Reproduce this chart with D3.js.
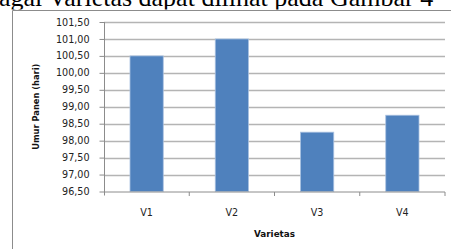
<!DOCTYPE html>
<html>
<head>
<meta charset="utf-8">
<script src="https://cdn.jsdelivr.net/npm/d3@7"></script>
<style>
body{margin:0;background:#fff;}
svg{display:block;}
</style>
</head>
<body>
<div id="chart"></div>
<script>
//DATA
const varietas = ["V1", "V2", "V3", "V4"];
const umurPanen = [100.5, 101.0, 98.25, 98.75];
const yTicks = [96.5, 97, 97.5, 98, 98.5, 99, 99.5, 100, 100.5, 101, 101.5];

//LAYOUT
const W = 451, H = 249;
const plot = {left:104, right:445, top:22, bottom:191.5};

const svg = d3.select("#chart").append("svg").attr("width", W).attr("height", H);

//text from the page above the figure (partly hidden by the chart image)
svg.append("text")
  .attr("x", -1).attr("y", 5.5)
  .attr("font-family", "Liberation Serif, Times New Roman, serif")
  .attr("font-size", 26)
  .attr("fill", "#000")
  .text("agai Varietas dapat dilihat pada Gambar 4");

//chart image background + frame
svg.append("rect").attr("x", 12).attr("y", 9.5).attr("width", W).attr("height", H).attr("fill", "#fff");
svg.append("path")
  .attr("d", `M12.5,${H} V10.5 H${W}`)
  .attr("fill", "none").attr("stroke", "#8c8c8c").attr("stroke-width", 1);

//scales
const x = d3.scaleBand().domain(varietas).range([plot.left, plot.right]).paddingInner(0.61).paddingOuter(0.305);
const y = d3.scaleLinear().domain([96.5, 101.5]).range([plot.bottom, plot.top]);
const fmt = d => d3.format(".2f")(d).replace(".", ",");

//grid
svg.append("g").selectAll("line").data(yTicks.slice(1)).join("line")
  .attr("x1", plot.left).attr("x2", plot.right)
  .attr("y1", d => Math.round(y(d)) + 0.5).attr("y2", d => Math.round(y(d)) + 0.5)
  .attr("stroke", "#b4b4b4").attr("stroke-width", 1.3);

//bars
svg.append("g").selectAll("rect").data(umurPanen).join("rect")
  .attr("x", (d, i) => x(varietas[i]))
  .attr("y", d => y(d))
  .attr("width", x.bandwidth())
  .attr("height", d => plot.bottom - y(d))
  .attr("fill", "#4f81bd")
  .attr("stroke", "#a9c1e0").attr("stroke-width", 0.8);

//y axis
const yAxis = svg.append("g").attr("transform", `translate(${plot.left + 0.5},0)`)
  .call(d3.axisLeft(y).tickValues(yTicks).tickFormat(fmt).tickSize(5).tickPadding(10));
yAxis.select(".domain").attr("stroke", "#8c8c8c").attr("d", `M0,${plot.top}V${plot.bottom + 4}`);
yAxis.selectAll(".tick line").attr("stroke", "#8c8c8c");
yAxis.selectAll("text").attr("font-family", "DejaVu Sans, sans-serif").attr("font-size", 9.6).attr("fill", "#222");

//x axis
const xb = svg.append("g").attr("transform", `translate(0,${plot.bottom + 0.5})`);
xb.append("line").attr("x1", plot.left).attr("x2", plot.right).attr("stroke", "#8c8c8c");
const bounds = varietas.map((v, i) => x(v) + x.bandwidth() + x.step() * x.paddingInner() / 2);
xb.selectAll(".tk").data(bounds).join("line").attr("class", "tk")
  .attr("x1", d => d).attr("x2", d => d).attr("y1", 0).attr("y2", 4)
  .attr("stroke", "#8c8c8c");
xb.selectAll("text").data(varietas).join("text")
  .attr("x", d => x(d) + x.bandwidth() / 2).attr("y", 23.5)
  .attr("text-anchor", "middle")
  .attr("font-family", "DejaVu Sans, sans-serif").attr("font-size", 9.6).attr("fill", "#222")
  .text(d => d);

//axis titles
svg.append("text")
  .attr("x", (plot.left + plot.right) / 2).attr("y", 236.5)
  .attr("text-anchor", "middle")
  .attr("font-family", "DejaVu Sans, sans-serif").attr("font-weight", "bold")
  .attr("font-size", 8.8).attr("fill", "#111")
  .text("Varietas");

svg.append("text")
  .attr("transform", `translate(38.5,${(plot.top + plot.bottom) / 2}) rotate(-90)`)
  .attr("text-anchor", "middle")
  .attr("font-family", "DejaVu Sans, sans-serif").attr("font-weight", "bold")
  .attr("font-size", 8.3).attr("fill", "#111")
  .text("Umur Panen (hari)");
</script>
</body>
</html>
